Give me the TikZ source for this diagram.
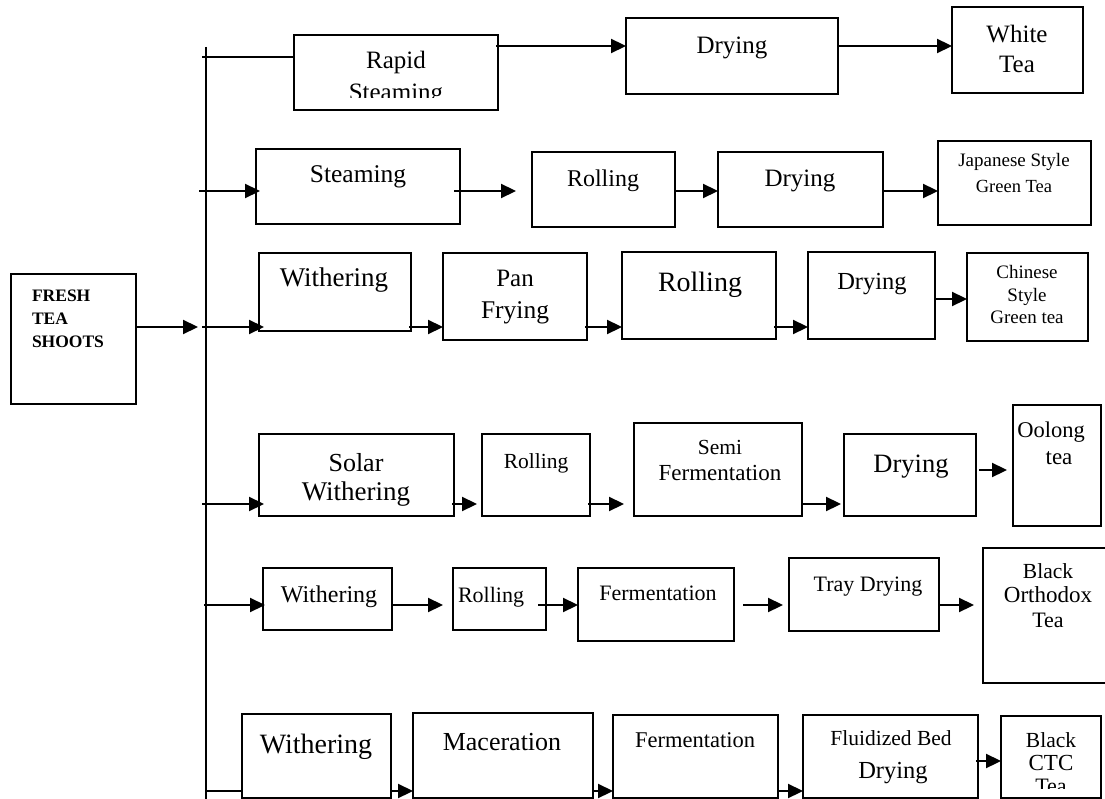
\documentclass[tikz,border=0pt]{standalone}
\usepackage{fontspec}
\setmainfont{Liberation Serif}
\usetikzlibrary{arrows.meta}
\newcommand\fsz[1]{\fontsize{#1}{#1}\selectfont}
\newcommand\bx[5]{\node[box, minimum width={(#4-#2)*1pt}, minimum height={(#5-#3)*1pt}] (#1) at (#2,#3) {};}
\newcommand\tx[5]{\node[lbl, font=\fsz{#4}] (#1) at (#2,#3) {#5};}
\begin{document}
\begin{tikzpicture}[x=1pt,y=-1pt,
  box/.style={draw, line width=1.5pt, inner sep=0pt, outer sep=0pt, anchor=north west},
  arr/.style={line width=2.2pt, -{Triangle[length=15pt,width=14pt]}},
  ln/.style={line width=2pt},
  lbl/.style={anchor=base, inner sep=0pt, outer sep=0pt},
  flbl/.style={anchor=base west, inner sep=0pt, outer sep=0pt, font=\bfseries\fsz{17.5}}]
\useasboundingbox (0,0) rectangle (1105,799);

% trunk
\coordinate (ttop) at (206,47);
\coordinate (tbot) at (206,802);
\draw[line width=1.6pt] (ttop) -- (tbot);

% ---------- Row 1 ----------
\bx{RS}{294}{35}{498}{110}
\bx{DA}{626}{18}{838}{94}
\bx{WT}{952}{7}{1083}{93}
\coordinate (b1) at (202,57);
\coordinate (y1) at (0,46);
\draw[ln] (b1) -- (RS.west |- b1);
\draw[arr] ([xshift=-2pt]RS.east |- y1) -- (DA.west |- y1);
\draw[arr] (DA.east |- y1) -- (WT.west |- y1);
\begin{scope}
\clip (294,35) rectangle (498,98);
\tx{tRSa}{396}{69}{25}{Rapid}
\tx{tRSb}{396}{101}{25}{Steaming}
\end{scope}
\tx{tDA}{732}{54}{25}{Drying}
\tx{tWTa}{1017}{43}{25}{White}
\tx{tWTb}{1017}{73}{25}{Tea}

% ---------- Row 2 ----------
\bx{ST}{256}{149}{460}{224}
\bx{RB}{532}{152}{675}{227}
\bx{DB}{718}{152}{883}{227}
\bx{JP}{938}{141}{1091}{225}
\coordinate (b2) at (199,191);
\draw[arr] (b2) -- ([xshift=4pt]ST.west |- b2);
\draw[arr] ([xshift=-6pt]ST.east |- b2) -- ([xshift=-16pt]RB.west |- b2);
\draw[arr] (RB.east |- b2) -- (DB.west |- b2);
\draw[arr] (DB.east |- b2) -- (JP.west |- b2);
\tx{tST}{358}{183}{25.5}{Steaming}
\tx{tRB}{603}{187}{24}{Rolling}
\tx{tDB}{800}{187}{25}{Drying}
\tx{tJPa}{1014}{167}{19}{Japanese Style}
\tx{tJPb}{1014}{193}{18.5}{Green Tea}

% ---------- Fresh tea shoots ----------
\bx{FR}{11}{274}{136}{404}
\coordinate (fa) at (198,327);
\draw[arr] (FR.east |- fa) -- (fa);
\node[flbl] (tFRa) at (32,302) {FRESH};
\node[flbl] (tFRb) at (32,325) {TEA};
\node[flbl] (tFRc) at (32,348) {SHOOTS};

% ---------- Row 3 ----------
\bx{WC}{259}{253}{411}{331}
\bx{PF}{443}{253}{587}{340}
\bx{RC}{622}{252}{776}{339}
\bx{DC}{808}{252}{935}{339}
\bx{CH}{967}{253}{1088}{341}
\coordinate (b3) at (202,327);
\coordinate (y3) at (0,299);
\draw[arr] (b3) -- ([xshift=5pt]WC.west |- b3);
\draw[arr] ([xshift=-2pt]WC.east |- b3) -- (PF.west |- b3);
\draw[arr] ([xshift=-2pt]PF.east |- b3) -- (RC.west |- b3);
\draw[arr] ([xshift=-2pt]RC.east |- b3) -- (DC.west |- b3);
\draw[arr] (DC.east |- y3) -- (CH.west |- y3);
\tx{tWC}{334}{287}{27}{Withering}
\tx{tPFa}{515}{287}{25}{Pan}
\tx{tPFb}{515}{319}{25.5}{Frying}
\tx{tRC}{700}{292}{28}{Rolling}
\tx{tDC}{872}{290}{24.5}{Drying}
\tx{tCHa}{1027}{279}{19}{Chinese}
\tx{tCHb}{1027}{302}{19}{Style}
\tx{tCHc}{1027}{324}{19}{Green tea}

% ---------- Row 4 ----------
\bx{SW}{259}{434}{454}{516}
\bx{RD}{482}{434}{590}{516}
\bx{SF}{634}{423}{802}{516}
\bx{DD}{844}{434}{976}{516}
\bx{OO}{1013}{405}{1101}{526}
\coordinate (b4) at (202,504);
\coordinate (y4) at (0,470);
\draw[arr] (b4) -- ([xshift=5pt]SW.west |- b4);
\draw[arr] ([xshift=-2pt]SW.east |- b4) -- ([xshift=-5pt]RD.west |- b4);
\draw[arr] ([xshift=-2pt]RD.east |- b4) -- ([xshift=-10pt]SF.west |- b4);
\draw[arr] (SF.east |- b4) -- ([xshift=-3pt]DD.west |- b4);
\draw[arr] ([xshift=3pt]DD.east |- y4) -- ([xshift=-6pt]OO.west |- y4);
\tx{tSWa}{356}{471}{26}{Solar}
\tx{tSWb}{356}{500}{27}{Withering}
\tx{tRD}{536}{468}{21.5}{Rolling}
\tx{tSFa}{720}{454}{21.5}{Semi}
\tx{tSFb}{720}{480}{23}{Fermentation}
\tx{tDD}{911}{472}{26.5}{Drying}
\tx{tOOa}{1051}{437}{22.5}{Oolong}
\tx{tOOb}{1059}{464}{23}{tea}

% ---------- Row 5 ----------
\bx{WE}{263}{568}{392}{630}
\bx{RE}{453}{568}{546}{630}
\bx{FE}{578}{568}{734}{641}
\bx{TD}{789}{558}{939}{631}
\bx{BO}{983}{548}{1113}{683}
\coordinate (b5) at (204,605);
\draw[arr] (b5) -- ([xshift=2pt]WE.west |- b5);
\draw[arr] (WE.east |- b5) -- ([xshift=-10pt]RE.west |- b5);
\draw[arr] ([xshift=-8pt]RE.east |- b5) -- (FE.west |- b5);
\draw[arr] ([xshift=9pt]FE.east |- b5) -- ([xshift=-6pt]TD.west |- b5);
\draw[arr] ([xshift=-1pt]TD.east |- b5) -- ([xshift=-9pt]BO.west |- b5);
\tx{tWE}{329}{602}{24}{Withering}
\tx{tRE}{491}{602}{22}{Rolling}
\tx{tFE}{658}{600}{22}{Fermentation}
\tx{tTD}{868}{591}{22}{Tray Drying}
\tx{tBOa}{1048}{578}{21.5}{Black}
\tx{tBOb}{1048}{602}{23}{Orthodox}
\tx{tBOc}{1048}{627}{22}{Tea}

% ---------- Row 6 ----------
\bx{WF}{242}{714}{391}{798}
\bx{MC}{413}{713}{593}{798}
\bx{FF}{613}{715}{778}{798}
\bx{FB}{803}{715}{978}{798}
\bx{CT}{1001}{716}{1101}{798}
\coordinate (b6) at (206,791);
\coordinate (y6) at (0,761);
\draw[ln] (b6) -- (WF.west |- b6);
\draw[arr] (WF.east |- b6) -- (MC.west |- b6);
\draw[arr] (MC.east |- b6) -- (FF.west |- b6);
\draw[arr] (FF.east |- b6) -- (FB.west |- b6);
\draw[arr] ([xshift=-2pt]FB.east |- y6) -- (CT.west |- y6);
\tx{tWF}{316}{753}{28}{Withering}
\tx{tMC}{502}{750}{26}{Maceration}
\tx{tFF}{695}{747}{22.5}{Fermentation}
\tx{tFBa}{891}{745}{21.5}{Fluidized Bed}
\tx{tFBb}{893}{778}{24.5}{Drying}
\tx{tCTa}{1051}{747}{21.5}{Black}
\tx{tCTb}{1051}{770}{23}{CTC}
\begin{scope}
\clip (1001,716) rectangle (1101,788);
\tx{tCTc}{1051}{793}{22}{Tea}
\end{scope}
\end{tikzpicture}
\end{document}
